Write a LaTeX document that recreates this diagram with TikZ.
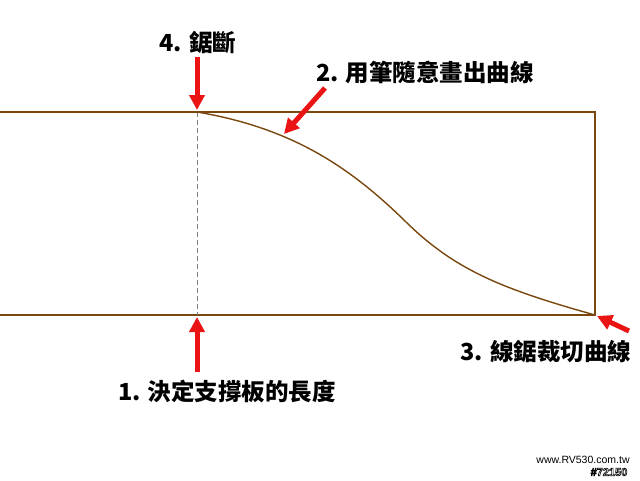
\documentclass[tikz,border=0pt]{standalone}
\usepackage{fontspec}
\setmainfont{Liberation Sans}
\newfontfamily\cjk{Noto Sans CJK TC}
\usetikzlibrary{arrows.meta}
\definecolor{wood}{RGB}{122,72,14}
\definecolor{arr}{RGB}{235,20,20}
\newcommand{\outlinetext}[1]{\special{pdf:literal direct 1 Tr 0.6 w}#1\special{pdf:literal direct 0 Tr}}
\tikzset{
  board/.style={draw=wood, line width=1.4pt},
  bigarrow/.style={draw=arr, line width=5pt, -{Triangle[width=15pt,length=15pt]}},
  lbl/.style={font=\cjk\bfseries\fontsize{23.5}{27}\selectfont, inner sep=0pt},
}
\begin{document}
\begin{tikzpicture}[x=1pt,y=-1pt]
\useasboundingbox[fill=white] (0,0) rectangle (640,480);
% board corners
\coordinate (tl) at (0,112);
\coordinate (cut) at (197,112);
\coordinate (tr) at (595,112);
\coordinate (br) at (595,315);
\coordinate (cutb) at (197,315);
\coordinate (bl) at (0,315);
\coordinate (mid) at (406,222);
\draw[board] (tl) -- (tr) -- (br) -- (bl);
\draw[gray, line width=0.6pt, dash pattern=on 5pt off 3pt] (cut) -- (cutb);
\draw[board] (cut) .. controls (292,128) and (350,167) .. (mid)
  .. controls (455,270) and (502,289) .. (br);
% arrows
\coordinate (a4s) at (197,57);
\coordinate (a4e) at (197,110);
\coordinate (a2s) at (325,88);
\coordinate (a2e) at (284,134);
\coordinate (a1s) at (197,372);
\coordinate (a1e) at (197,317);
\coordinate (a3s) at (629,331);
\coordinate (a3e) at (597,316);
\draw[bigarrow] (a4s) -- (a4e);
\draw[bigarrow] (a2s) -- (a2e);
\draw[bigarrow] (a1s) -- (a1e);
\draw[bigarrow] (a3s) -- (a3e);
% labels
\node[lbl] (t4) at (198,42) {4. 鋸斷};
\node[lbl] (t2) at (425,72) {2. 用筆隨意畫出曲線};
\node[lbl] (t1) at (227,391) {1. 決定支撐板的長度};
\node[lbl] (t3) at (546,352) {3. 線鋸裁切曲線};
\node[font=\fontsize{10.5}{12}\selectfont, inner sep=0pt] (www) at (583,460) {www.RV530.com.tw};
\node[font=\bfseries\fontsize{11}{12}\selectfont, inner sep=0pt] (num) at (609,472) {\outlinetext{\#72150}};
\end{tikzpicture}
\end{document}
